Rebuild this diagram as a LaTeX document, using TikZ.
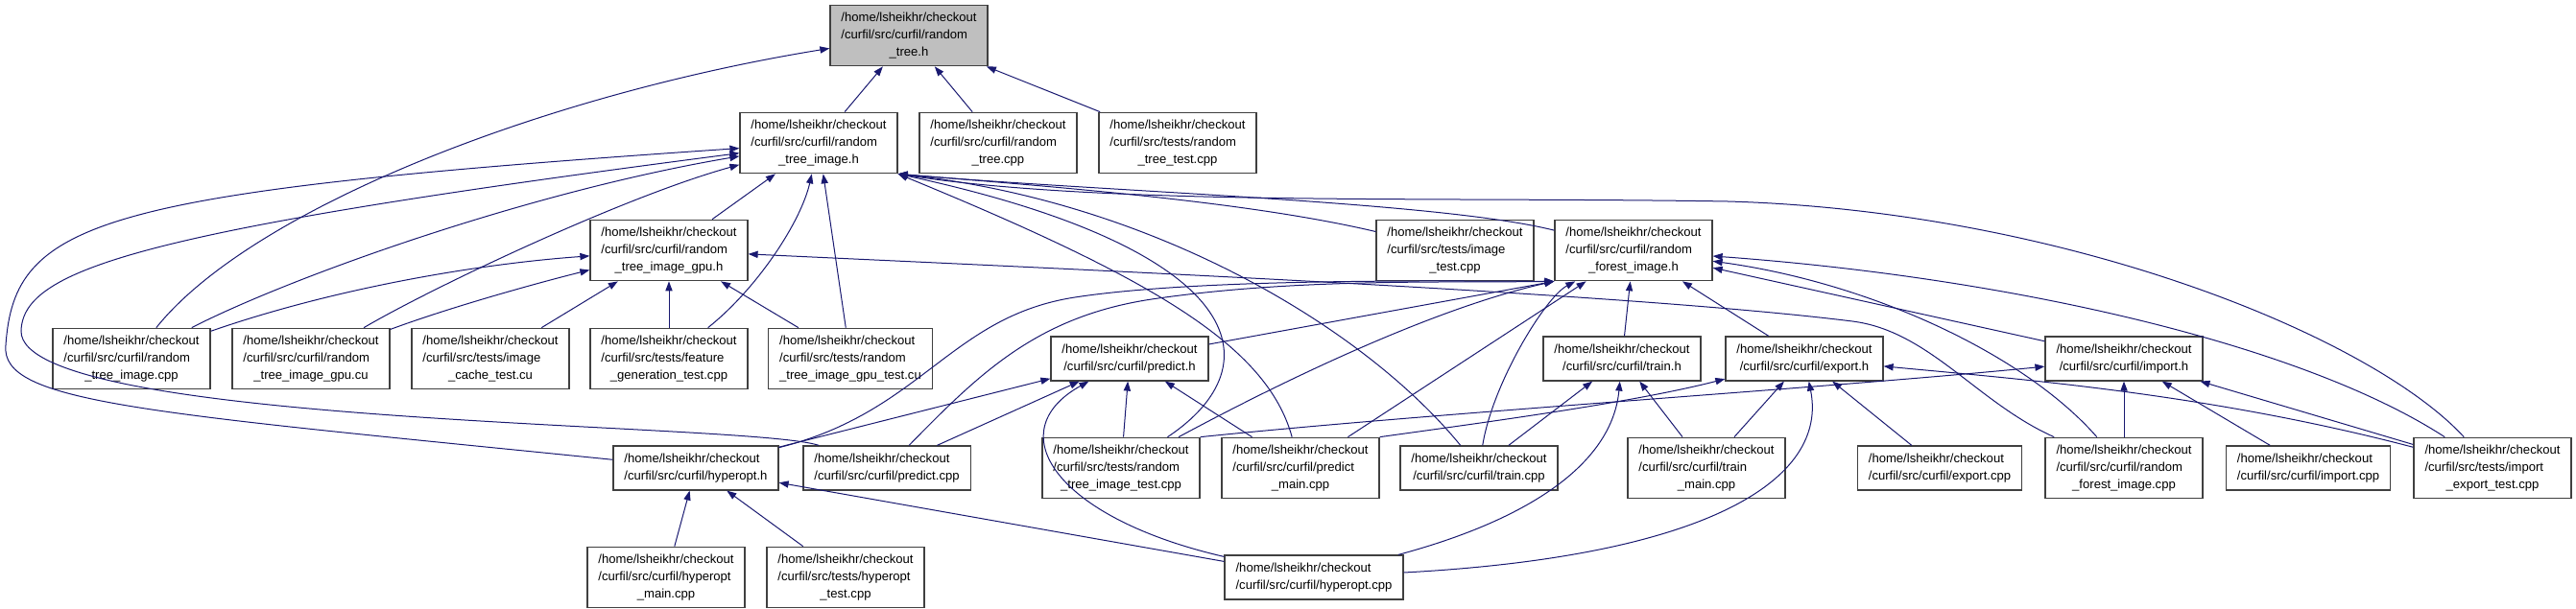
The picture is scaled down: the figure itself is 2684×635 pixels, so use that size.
\documentclass[tikz,border=0pt]{standalone}
\usepackage{fontspec}
\setmainfont{Liberation Sans}
\usetikzlibrary{arrows.meta}
\definecolor{cedge}{HTML}{191970}
\definecolor{cframe}{HTML}{404040}
\definecolor{cmain}{HTML}{BFBFBF}
\newcommand{\pathlbl}[2]{\begin{tabular}{@{}l@{}}/home/lsheikhr/checkout\\#1\\\multicolumn{1}{@{}c@{}}{#2}\end{tabular}}
\newcommand{\pathlblshort}[1]{\begin{tabular}{@{}l@{}}/home/lsheikhr/checkout\\\multicolumn{1}{@{}c@{}}{#1}\end{tabular}}
\tikzset{
  every picture/.style={font=\fontsize{6.54}{9}\selectfont},
  filebox/.style={draw=cframe, fill=white, line width=0.6pt, inner xsep=5.75pt, inner ysep=0pt, minimum height=31.75pt},
  twoline/.style={filebox, minimum height=23pt},
  arrow/.style={-{Triangle[length=5pt, width=3.6pt]}, draw=cedge, line width=0.5pt},
}

\begin{document}
\begin{tikzpicture}[x=0.5pt, y=-0.5pt]
  \useasboundingbox (0,0) rectangle (2684,635);
  \node[filebox, fill=cmain] (rth) at (947,37) {\pathlbl{/curfil/src/curfil/random}{\_tree.h}};
  \node[filebox] (rtih) at (853,149) {\pathlbl{/curfil/src/curfil/random}{\_tree\_image.h}};
  \node[filebox] (rtcpp) at (1040,149) {\pathlbl{/curfil/src/curfil/random}{\_tree.cpp}};
  \node[filebox] (rttest) at (1227,149) {\pathlbl{/curfil/src/tests/random}{\_tree\_test.cpp}};
  \node[filebox] (gpuh) at (697,261) {\pathlbl{/curfil/src/curfil/random}{\_tree\_image\_gpu.h}};
  \node[filebox] (imgtest) at (1516,261) {\pathlbl{/curfil/src/tests/image}{\_test.cpp}};
  \node[filebox] (rfih) at (1702,261) {\pathlbl{/curfil/src/curfil/random}{\_forest\_image.h}};
  \node[filebox] (rticpp) at (137,374) {\pathlbl{/curfil/src/curfil/random}{\_tree\_image.cpp}};
  \node[filebox] (gpucu) at (324,374) {\pathlbl{/curfil/src/curfil/random}{\_tree\_image\_gpu.cu}};
  \node[filebox] (cachetest) at (511,374) {\pathlbl{/curfil/src/tests/image}{\_cache\_test.cu}};
  \node[filebox] (feattest) at (697,374) {\pathlbl{/curfil/src/tests/feature}{\_generation\_test.cpp}};
  \node[filebox] (gputest) at (886,374) {\pathlbl{/curfil/src/tests/random}{\_tree\_image\_gpu\_test.cu}};
  \node[twoline] (predh) at (1177,374) {\pathlblshort{/curfil/src/curfil/predict.h}};
  \node[twoline] (trainh) at (1690,374) {\pathlblshort{/curfil/src/curfil/train.h}};
  \node[twoline] (exph) at (1880,374) {\pathlblshort{/curfil/src/curfil/export.h}};
  \node[twoline] (imph) at (2213,374) {\pathlblshort{/curfil/src/curfil/import.h}};
  \node[twoline] (hypoh) at (725,488) {\pathlblshort{/curfil/src/curfil/hyperopt.h}};
  \node[twoline] (predcpp) at (924,488) {\pathlblshort{/curfil/src/curfil/predict.cpp}};
  \node[filebox] (rtitest) at (1168,488) {\pathlbl{/curfil/src/tests/random}{\_tree\_image\_test.cpp}};
  \node[filebox] (predmain) at (1355,488) {\pathlbl{/curfil/src/curfil/predict}{\_main.cpp}};
  \node[twoline] (traincpp) at (1541,488) {\pathlblshort{/curfil/src/curfil/train.cpp}};
  \node[filebox] (trainmain) at (1778,488) {\pathlbl{/curfil/src/curfil/train}{\_main.cpp}};
  \node[twoline] (expcpp) at (2021,488) {\pathlblshort{/curfil/src/curfil/export.cpp}};
  \node[filebox] (rficpp) at (2213,488) {\pathlbl{/curfil/src/curfil/random}{\_forest\_image.cpp}};
  \node[twoline] (impcpp) at (2405,488) {\pathlblshort{/curfil/src/curfil/import.cpp}};
  \node[filebox] (ietest) at (2597,488) {\pathlbl{/curfil/src/tests/import}{\_export\_test.cpp}};
  \node[filebox] (hypomain) at (694,602) {\pathlbl{/curfil/src/curfil/hyperopt}{\_main.cpp}};
  \node[filebox] (hypotest) at (881,602) {\pathlbl{/curfil/src/tests/hyperopt}{\_test.cpp}};
  \node[twoline] (hypocpp) at (1369,602) {\pathlblshort{/curfil/src/curfil/hyperopt.cpp}};
  \foreach \a/\b in {rtih/rth, rtcpp/rth, rttest/rth, gpuh/rtih, gputest/rtih, cachetest/gpuh, feattest/gpuh,
    gputest/gpuh, predmain/rfih, trainh/rfih, exph/rfih, imph/rfih, hypoh/predh, predcpp/predh, rtitest/predh,
    predmain/predh, traincpp/trainh, trainmain/trainh, trainmain/exph, expcpp/exph, rficpp/imph, impcpp/imph,
    ietest/imph, hypomain/hypoh, hypotest/hypoh, hypocpp/hypoh}
    \draw[arrow] (\a) -- (\b);
  \draw[arrow] (rticpp) .. controls (260,220) and (560,100) .. (rth);
  \draw[arrow] (rticpp) .. controls (300,290) and (550,200) .. (rtih);
  \draw[arrow] (gpucu) .. controls (450,300) and (650,205) .. (rtih);
  \draw[arrow] (hypoh) .. controls (150,430) and (0,420) .. (6,360) .. controls (15,230) and (100,200) .. (rtih);
  \draw[arrow] (predcpp) .. controls (780,440) and (20,445) .. (22,345) .. controls (24,280) and (150,240) .. (rtih);
  \draw[arrow] (feattest) .. controls (790,300) and (835,230) .. (rtih);
  \draw[arrow] (imgtest) .. controls (1300,210) and (1100,195) .. (rtih.south east);
  \draw[arrow] (rfih) .. controls (1500,210) and (1150,200) .. (rtih.south east);
  \draw[arrow] (ietest) .. controls (2470,350) and (2150,220) .. (1800,210) .. controls (1500,205) and (1150,215) .. (rtih.south east);
  \draw[arrow] (rtitest) .. controls (1330,380) and (1300,260) .. (rtih.south east);
  \draw[arrow] (predmain) .. controls (1320,360) and (1200,290) .. (rtih.south east);
  \draw[arrow] (traincpp) .. controls (1420,340) and (1200,210) .. (rtih.south east);
  \draw[arrow] (rticpp) .. controls (350,300) and (500,275) .. (gpuh);
  \draw[arrow] (gpucu) .. controls (470,320) and (560,295) .. (gpuh);
  \draw[arrow] (rficpp) .. controls (2060,420) and (2010,345) .. (1930,335) .. controls (1690,305) and (1100,280) .. (gpuh);
  \draw[arrow] (hypoh) .. controls (960,430) and (990,330) .. (1120,310) .. controls (1250,290) and (1500,293) .. (rfih.south west);
  \draw[arrow] (predcpp) .. controls (1020,390) and (1080,330) .. (1200,312) .. controls (1350,290) and (1500,295) .. (rfih.south west);
  \draw[arrow] (predh) -- (rfih.south west);
  \draw[arrow] (rtitest) .. controls (1350,390) and (1500,320) .. (rfih.south west);
  \draw[arrow] (traincpp) .. controls (1555,400) and (1610,310) .. (rfih);
  \draw[arrow] (ietest) .. controls (2400,360) and (2100,290) .. (rfih);
  \draw[arrow] (rficpp) .. controls (2110,370) and (1950,295) .. (rfih);
  \draw[arrow] (hypocpp) .. controls (1100,540) and (1040,450) .. (predh);
  \draw[arrow] (hypocpp) .. controls (1600,540) and (1680,480) .. (trainh);
  \draw[arrow] (predmain.north east) .. controls (1550,440) and (1700,420) .. (exph);
  \draw[arrow] (hypocpp) .. controls (1780,580) and (1905,500) .. (exph);
  \draw[arrow] (ietest) .. controls (2300,410) and (2100,395) .. (exph);
  \draw[arrow] (rtitest.north east) .. controls (1500,430) and (1900,405) .. (imph);
\end{tikzpicture}
\end{document}
